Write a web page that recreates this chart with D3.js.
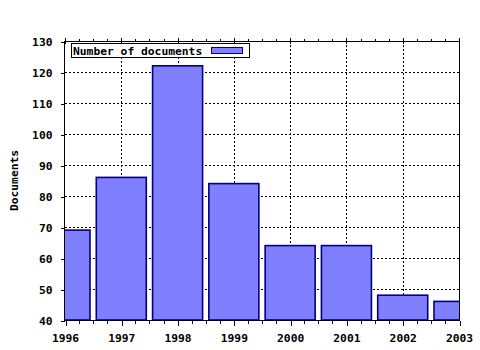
<!DOCTYPE html>
<html>
<head>
<meta charset="utf-8">
<script src="https://cdn.jsdelivr.net/npm/d3@7"></script>
<style>
  html, body { margin: 0; padding: 0; background: #fff; }
  svg { display: block; }
  text { font-family: "DejaVu Sans Mono", "Liberation Mono", monospace; font-weight: bold; font-size: 11.3px; fill: #000; }
</style>
</head>
<body>
<script>
const years = [1996, 1997, 1998, 1999, 2000, 2001, 2002, 2003];
const documents = [69, 86, 122, 84, 64, 64, 48, 46];
const yTicks = [40, 50, 60, 70, 80, 90, 100, 110, 120, 130];
const seriesName = "Number of documents";
const yTitle = "Documents";

const W = 480, H = 350;
const L = 65, R = 459, T = 41, B = 320;

const svg = d3.select("body").append("svg").attr("width", W).attr("height", H);

const x = d3.scaleLinear().domain([1996, 2003]).range([L, R]);
const y = d3.scaleLinear().domain([40, 130]).range([B, T]);

svg.append("clipPath").attr("id", "plot")
  .append("rect").attr("x", L).attr("y", T).attr("width", R - L).attr("height", B - T);

// gridlines
const grid = svg.append("g").attr("shape-rendering", "crispEdges")
  .attr("stroke", "#000").attr("stroke-width", 1).attr("stroke-dasharray", "2,2");
grid.selectAll("line.h").data(yTicks.slice(1)).join("line")
  .attr("x1", L).attr("x2", R)
  .attr("y1", d => Math.round(y(d)) + 0.5).attr("y2", d => Math.round(y(d)) + 0.5);
grid.selectAll("line.v").data(years.slice(1, -1)).join("line")
  .attr("y1", T).attr("y2", B)
  .attr("x1", d => Math.round(x(d)) + 0.5).attr("x2", d => Math.round(x(d)) + 0.5);

// bars
const barW = 50;
svg.append("g").attr("clip-path", "url(#plot)")
  .selectAll("rect").data(years).join("rect")
  .attr("x", d => x(d) - barW / 2)
  .attr("width", barW)
  .attr("y", (d, i) => y(documents[i]))
  .attr("height", (d, i) => B - y(documents[i]))
  .attr("fill", "#8080ff")
  .attr("stroke", "#000080")
  .attr("stroke-width", 1.6);

// frame
const frame = svg.append("g").attr("shape-rendering", "crispEdges").attr("stroke", "#000");
frame.append("line").attr("x1", L - 0.5).attr("x2", R + 0.5).attr("y1", T + 0.5).attr("y2", T + 0.5);
frame.append("line").attr("x1", R + 0.5).attr("x2", R + 0.5).attr("y1", T).attr("y2", B + 1);

// minor ticks (quarters)
const minor = [];
for (let i = 0; i < years.length - 1; i++) for (let k = 1; k < 4; k++) minor.push(years[i] + k / 4);
frame.selectAll("line.mb").data(minor).join("line")
  .attr("x1", d => Math.round(x(d)) + 0.5).attr("x2", d => Math.round(x(d)) + 0.5)
  .attr("y1", B + 1).attr("y2", B + 4);
frame.selectAll("line.mt").data(minor).join("line")
  .attr("x1", d => Math.round(x(d)) + 0.5).attr("x2", d => Math.round(x(d)) + 0.5)
  .attr("y1", T + 0.5).attr("y2", T - 2);
frame.selectAll("line.Mt").data(years).join("line")
  .attr("x1", d => Math.round(x(d)) + 0.5).attr("x2", d => Math.round(x(d)) + 0.5)
  .attr("y1", T + 3).attr("y2", T - 3);

// x axis
const xAxis = svg.append("g").attr("transform", `translate(0,${B + 0.5})`)
  .call(d3.axisBottom(x).tickValues(years).tickFormat(d3.format("d")).tickSize(5).tickPadding(8));
xAxis.select(".domain").attr("d", `M${L - 0.5},0H${R + 0.5}`).attr("shape-rendering", "crispEdges");
xAxis.selectAll(".tick line").attr("shape-rendering", "crispEdges")
  .attr("transform", "translate(0.5,0)");
xAxis.selectAll("text").attr("font-size", null).attr("font-family", null);

// y axis
const yAxis = svg.append("g").attr("transform", `translate(${L - 0.5},0)`)
  .call(d3.axisLeft(y).tickValues(yTicks).tickSize(4).tickPadding(8));
yAxis.select(".domain").attr("d", `M0,${T}V${B + 1}`).attr("shape-rendering", "crispEdges");
yAxis.selectAll(".tick line").attr("shape-rendering", "crispEdges").attr("transform", "translate(0,0.5)");
yAxis.selectAll("text").attr("font-size", null).attr("font-family", null).attr("dy", "0.36em");
svg.selectAll(".tick text").style("font-weight", "bold");

// y title
svg.append("text").attr("transform", `translate(14,${(T + B) / 2}) rotate(-90)`)
  .attr("text-anchor", "middle").attr("dy", "0.35em").text(yTitle);

// legend
const lg = svg.append("g").attr("shape-rendering", "crispEdges");
lg.append("rect").attr("x", 71.5).attr("y", 43.5).attr("width", 178).attr("height", 14)
  .attr("fill", "#fff").attr("stroke", "#000");
lg.append("text").attr("x", 73).attr("y", 54.5).attr("shape-rendering", null).text(seriesName);
lg.append("rect").attr("x", 211.5).attr("y", 47.5).attr("width", 31).attr("height", 6)
  .attr("fill", "#8080ff").attr("stroke", "#000080").attr("stroke-width", 1.2);
</script>
</body>
</html>
